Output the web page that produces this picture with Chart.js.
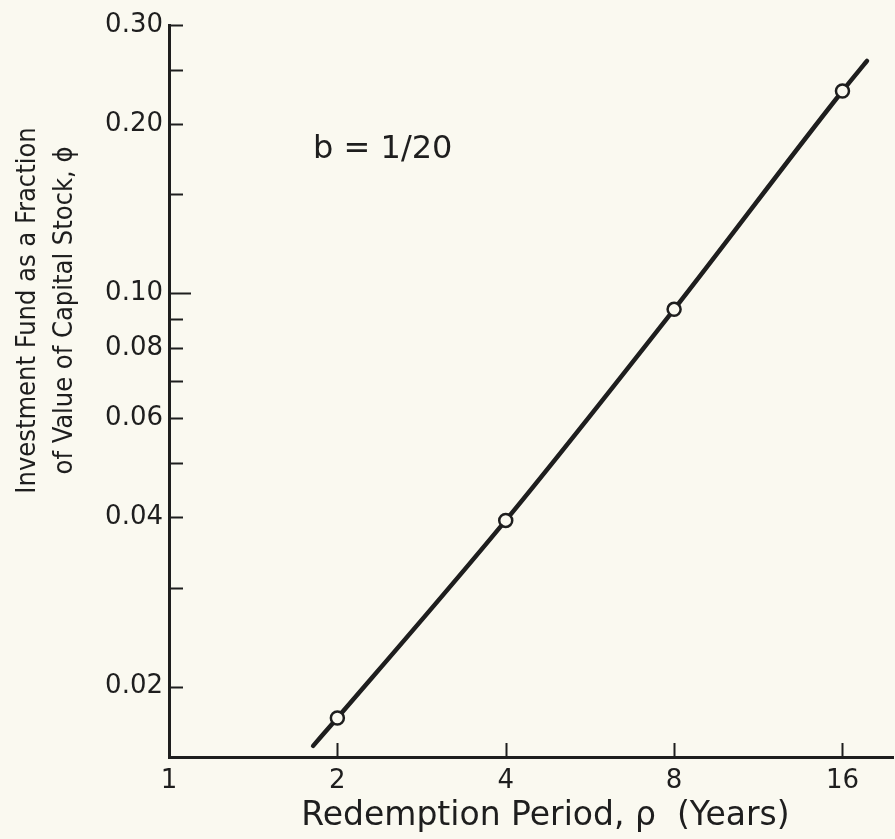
<!DOCTYPE html>
<html>
<head>
<meta charset="utf-8">
<script src="https://cdn.jsdelivr.net/npm/chart.js@4/dist/chart.umd.min.js"></script>
<style>
  html, body { margin: 0; padding: 0; background: #faf9f0; overflow: hidden; }
  #wrap { width: 895px; height: 839px; }
</style>
</head>
<body>
<div id="wrap"><canvas id="fundChart"></canvas></div>
<script>
// values
var periods = [2, 4, 8, 16];
var fundFraction = [0.0176, 0.0395, 0.0937, 0.229];

// the drawn curve, including its two ends
var curvePeriods = [1.81, 2, 4, 8, 16, 17.7];
var curveFraction = [0.0157, 0.0176, 0.0395, 0.0937, 0.229, 0.259];

var xTickValues = [1, 2, 4, 8, 16];
var xTickLabels = ['1', '2', '4', '8', '16'];
var yTickValues = [0.02, 0.03, 0.04, 0.05, 0.06, 0.07, 0.08, 0.09, 0.10, 0.15, 0.20, 0.25, 0.30];
var yTickLabels = ['0.02', '', '0.04', '', '0.06', '', '0.08', '', '0.10', '', '0.20', '', '0.30'];

var xTitle = 'Redemption Period, \u03c1  (Years)';
var yTitleLines = ['Investment Fund as a Fraction', 'of Value of Capital Stock, \u03d5'];
var note = { text: 'b = 1/20', x: 1.81, y: 0.174 };

var ink = '#1e1e1e';
var paper = '#faf9f0';
var fontFamily = "'DejaVu Sans', sans-serif";

// tick marks sit inside the plot; titles and the note are drawn here too
var extras = {
    id: 'extras',
    afterDraw: function(chart) {
        var ctx = chart.ctx;
        var area = chart.chartArea;
        var xs = chart.scales.x, ys = chart.scales.y;
        ctx.save();
        ctx.strokeStyle = ink;
        ctx.lineWidth = 2;
        ys.ticks.forEach(function(t) {
            var py = Math.round(ys.getPixelForValue(t.value)) + 0.5;
            var len = t.value === 0.10 ? 22 : 14;
            ctx.beginPath();
            ctx.moveTo(area.left, py);
            ctx.lineTo(area.left + len, py);
            ctx.stroke();
        });
        xs.ticks.forEach(function(t) {
            if (t.value === 1) return;
            var px = Math.round(xs.getPixelForValue(t.value)) + 0.5;
            ctx.beginPath();
            ctx.moveTo(px, area.bottom);
            ctx.lineTo(px, area.bottom - 14);
            ctx.stroke();
        });

        ctx.fillStyle = ink;
        ctx.font = '32px ' + fontFamily;
        ctx.textBaseline = 'alphabetic';
        ctx.fillText(note.text, xs.getPixelForValue(note.x), ys.getPixelForValue(note.y));

        // x title, a little right of the axis middle as in the original
        ctx.textAlign = 'center';
        ctx.font = '33px ' + fontFamily;
        ctx.fillText(xTitle, area.left + (area.right - area.left) * 0.52, area.bottom + 68);

        // rotated two-line y title, sitting above the middle of the axis
        var cy = area.top + (area.bottom - area.top) * 0.39;
        ctx.font = "27px 'DejaVu Sans Condensed', " + fontFamily;
        [35, 72].forEach(function(bx, i) {
            ctx.save();
            ctx.translate(bx, cy);
            ctx.rotate(-Math.PI / 2);
            ctx.fillText(yTitleLines[i], 0, 0);
            ctx.restore();
        });
        ctx.restore();
    }
};

var ctx = document.getElementById('fundChart').getContext('2d');
var fundChart = new Chart(ctx, {
    type: 'line',
    data: {
        datasets: [{
            label: 'points',
            data: periods.map(function(p, i) { return { x: p, y: fundFraction[i] }; }),
            showLine: false,
            pointRadius: 6.5,
            pointBorderWidth: 2.5,
            pointBorderColor: ink,
            pointBackgroundColor: paper
        }, {
            label: 'curve',
            data: curvePeriods.map(function(p, i) { return { x: p, y: curveFraction[i] }; }),
            borderColor: ink,
            borderWidth: 4.5,
            borderCapStyle: 'round',
            pointRadius: 0,
            cubicInterpolationMode: 'monotone',
            fill: false
        }]
    },
    options: {
        responsive: true,
        maintainAspectRatio: false,
        animation: false,
        layout: { autoPadding: false, padding: { top: 25, right: 2, left: 0, bottom: 0 } },
        plugins: {
            legend: { display: false },
            tooltip: { enabled: false }
        },
        scales: {
            x: {
                type: 'logarithmic',
                min: 1,
                max: 19.7,
                grid: { display: false, drawTicks: false },
                border: { display: true, color: ink, width: 3 },
                afterBuildTicks: function(scale) {
                    scale.ticks = xTickValues.map(function(v) { return { value: v }; });
                },
                afterFit: function(scale) {
                    scale.height = 82;
                    scale.paddingLeft = 0;
                    scale.paddingRight = 0;
                },
                ticks: {
                    autoSkip: false,
                    maxRotation: 0,
                    padding: 9,
                    color: ink,
                    font: { family: fontFamily, size: 26 },
                    callback: function(value) {
                        var i = xTickValues.indexOf(value);
                        return i >= 0 ? xTickLabels[i] : '';
                    }
                }
            },
            y: {
                type: 'logarithmic',
                min: 0.015,
                max: 0.30,
                grid: { display: false, drawTicks: false },
                border: { display: true, color: ink, width: 3 },
                afterBuildTicks: function(scale) {
                    scale.ticks = yTickValues.map(function(v) { return { value: v }; });
                },
                afterFit: function(scale) { scale.width = 169; },
                ticks: {
                    autoSkip: false,
                    padding: 6,
                    color: ink,
                    font: { family: fontFamily, size: 26 },
                    callback: function(value) {
                        var i = yTickValues.indexOf(value);
                        return i >= 0 ? yTickLabels[i] : '';
                    }
                }
            }
        }
    },
    plugins: [extras]
});
</script>
</body>
</html>
